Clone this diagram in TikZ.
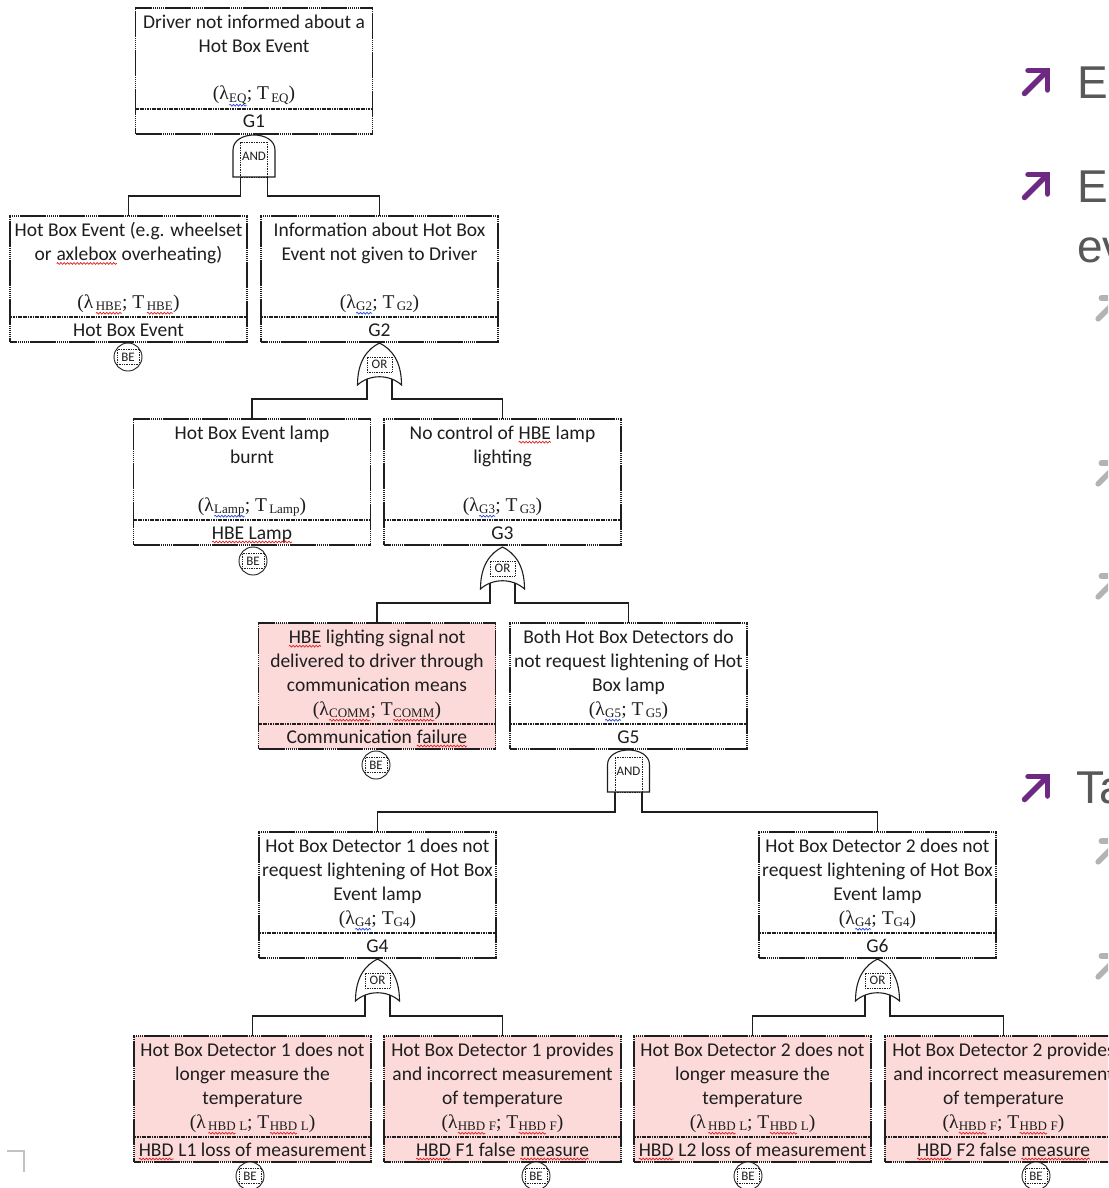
\documentclass[tikz,border=0pt]{standalone}
\usepackage{fontspec}
\setmainfont{Carlito}
\newfontfamily\seriffont{Liberation Serif}
\newfontfamily\slidefont{Liberation Sans}
\usetikzlibrary{calc,decorations.pathmorphing}

\definecolor{evpink}{HTML}{FDDADA}
\definecolor{inkgrey}{HTML}{1E1E1E}
\definecolor{bulletpurple}{HTML}{6E2A82}
\definecolor{bulletgrey}{HTML}{B3B3B3}
\definecolor{slidetext}{HTML}{58585A}
\definecolor{spellred}{HTML}{E02020}
\definecolor{grammarblue}{HTML}{2848E0}

\tikzset{
  evbox/.style={draw=inkgrey, line width=1.7pt, dash pattern=on 1.6pt off 0.35pt,
    minimum width=237pt, minimum height=126pt, inner sep=0pt, outer sep=0pt},
  divider/.style={draw=inkgrey, line width=2.3pt, dash pattern=on 1.2pt off 0.5pt},
  desc/.style={inner sep=0pt, align=center, text=inkgrey, font=\fontsize{19.5}{24}\selectfont},
  formula/.style={inner sep=0pt, text=inkgrey, font=\seriffont\fontsize{19.5}{24}\selectfont},
  conn/.style={draw=inkgrey, line width=1.3pt},
  gate/.style={draw=inkgrey, line width=1.1pt, fill=white},
  gatelab/.style={draw=inkgrey, line width=0.7pt, densely dotted, inner sep=0pt,
    text=inkgrey, font=\fontsize{13}{13}\selectfont},
  becirc/.style={circle, draw=inkgrey, line width=0.9pt, fill=white, minimum size=28pt, inner sep=0pt},
  belab/.style={draw=inkgrey, line width=0.7pt, densely dotted, inner sep=0pt,
    minimum width=22pt, minimum height=15pt, text=inkgrey, font=\fontsize{13}{13}\selectfont},
  slidetxt/.style={inner sep=0pt, text=slidetext, font=\slidefont\fontsize{46}{50}\selectfont},
}

% wavy proofing underline below a word
\newcommand\wave[2]{\tikz[baseline=(w.base)]{\node[inner sep=0pt,outer sep=0pt,anchor=base,draw=none,fill=none] (w) at (0,0) {#2};\draw[#1,line width=0.7pt,decorate,decoration={snake,amplitude=0.9pt,segment length=3.3pt}] ([yshift=-3pt]w.base west) -- ([yshift=-3pt]w.base east);}}
\newcommand\rw[1]{\wave{spellred}{#1}}
\newcommand\bw[1]{\wave{grammarblue}{#1}}

% rate / time pair of an event
\newcommand\sub[1]{\raisebox{-2.2pt}{\fontsize{13}{13}\selectfont #1}}
\newcommand\fm[2]{(λ\sub{#1}; T\sub{#2})}

% event box: name, centre x, top y, fill, description, rate pair, identifier
\newcommand\evt[7]{%
  \node[evbox,fill=#4,anchor=north] (#1) at (#2,#3) {};
  \draw[divider] ($(#1.south west)+(0.8,-25)$) -- ($(#1.south east)+(-0.8,-25)$);
  \node[desc,anchor=north] (#1-text) at ($(#1.north)+(0,6)$) {\rule{0pt}{14pt}#5};
  \node[formula,anchor=base] (#1-rate) at ($(#1.north)+(0,92)$) {#6};
  \node[desc,anchor=base] (#1-id) at ($(#1.south)+(0,-6)$) {#7};
}

% AND gate: name, centre x, top y
\newcommand\andgate[3]{%
  \draw[gate] (#2-21,#3+42) -- (#2-21,#3+15) .. controls (#2-21,#3-5) and (#2+21,#3-5) .. (#2+21,#3+15) -- (#2+21,#3+42) -- cycle;
  \node[gatelab,minimum width=27pt,minimum height=35pt,text depth=7pt] (#1) at (#2,#3+24.5) {AND};
  \coordinate (#1-l) at (#2-13.5,#3+42);
  \coordinate (#1-r) at (#2+13.5,#3+42);
}

% OR gate: name, centre x, top y
\newcommand\orgate[3]{%
  \draw[gate] (#2,#3) .. controls (#2-12,#3+6) and (#2-22,#3+18) .. (#2-22,#3+42)
    .. controls (#2-10,#3+31) and (#2+10,#3+31) .. (#2+22,#3+42)
    .. controls (#2+22,#3+18) and (#2+12,#3+6) .. cycle;
  \node[gatelab,minimum width=25pt,minimum height=15pt] (#1) at (#2,#3+21.5) {OR};
  \coordinate (#1-l) at (#2-12.5,#3+35.5);
  \coordinate (#1-r) at (#2+12.5,#3+35.5);
}

% basic event marker: name, centre x, centre y
\newcommand\basicev[3]{%
  \node[becirc] (#1) at (#2,#3) {};
  \node[belab] (#1-t) at (#2,#3) {BE};
}

% bullet arrow of the slide: x0, y0, size, colour
\newcommand\slidearrow[4]{%
  \begin{scope}[shift={(#1,#2)},scale=#3/30]
    \draw[#4,line width=5.5pt,line cap=round,line join=miter] (7,3.5) -- (26.5,3.5) -- (26.5,23);
    \draw[#4,line width=5.5pt,line cap=round] (3.5,26.5) -- (24,6);
  \end{scope}
}

\begin{document}
\begin{tikzpicture}[x=1pt,y=-1pt]
\clip (0,0) rectangle (1108,1188);
\fill[white] (0,0) rectangle (1108,1188);

% ---- events ----
\evt{g1}{254}{8}{white}{Driver not informed about a\\Hot Box Event}{\fm{\bw{EQ}}{\,EQ}}{G1}
\evt{hbe}{128.5}{216}{white}{Hot Box Event (e.g. wheelset\\or \rw{axlebox} overheating)}{\fm{\,\rw{HBE}}{\,\rw{HBE}}}{Hot Box Event}
\evt{g2}{379.5}{216}{white}{Information about Hot Box\\Event not given to Driver}{\fm{\bw{G2}}{\,G2}}{G2}
\evt{lamp}{252}{419}{white}{Hot Box Event lamp\\burnt}{\fm{\bw{Lamp}}{\,Lamp}}{\rw{HBE Lamp}}
\evt{g3}{502.5}{419}{white}{No control of \rw{HBE} lamp\\lighting}{\fm{\bw{G3}}{\,G3}}{G3}
\evt{comm}{377}{623}{evpink}{\rw{HBE} lighting signal not\\delivered to driver through\\communication means}{\fm{\rw{COMM}}{\rw{COMM}}}{Communication \rw{failure}}
\evt{g5}{628.5}{623}{white}{Both Hot Box Detectors do\\not request lightening of Hot\\Box lamp}{\fm{\bw{G5}}{\,G5}}{G5}
\evt{g4}{377.5}{832}{white}{Hot Box Detector 1 does not\\request lightening of Hot Box\\Event lamp}{\fm{\bw{G4}}{G4}}{G4}
\evt{g6}{877.5}{832}{white}{Hot Box Detector 2 does not\\request lightening of Hot Box\\Event lamp}{\fm{\bw{G4}}{G4}}{G6}
\evt{l1}{252.5}{1036}{evpink}{Hot Box Detector 1 does not\\longer measure the\\temperature}{\fm{\,\rw{HBD} L}{\rw{HBD} L}}{\rw{HBD} L1 loss of measurement}
\evt{f1}{502.5}{1036}{evpink}{Hot Box Detector 1 provides\\and incorrect measurement\\of temperature}{\fm{\rw{HBD} F}{\rw{HBD} F}}{\rw{HBD} F1 false \rw{measure}}
\evt{l2}{752.5}{1036}{evpink}{Hot Box Detector 2 does not\\longer measure the\\temperature}{\fm{\,\rw{HBD} L}{\rw{HBD} L}}{\rw{HBD} L2 loss of measurement}
\evt{f2}{1003.5}{1036}{evpink}{Hot Box Detector 2 provides\\and incorrect measurement\\of temperature}{\fm{\rw{HBD} F}{\rw{HBD} F}}{\rw{HBD} F2 false \rw{measure}}

% ---- gates ----
\andgate{a1}{254}{135}
\orgate{o2}{379.5}{343}
\orgate{o3}{502.5}{547}
\andgate{a5}{628.5}{750}
\orgate{o4}{377.5}{959}
\orgate{o6}{877.5}{959}

% ---- connectors ----
\draw[conn] (a1-l) |- ([yshift=20pt]hbe.north) -- (hbe.north);
\draw[conn] (a1-r) |- ([yshift=20pt]g2.north) -- (g2.north);
\draw[conn] (o2-l) |- ([yshift=20pt]lamp.north) -- (lamp.north);
\draw[conn] (o2-r) |- ([yshift=20pt]g3.north) -- (g3.north);
\draw[conn] (o3-l) |- ([yshift=20pt]comm.north) -- (comm.north);
\draw[conn] (o3-r) |- ([yshift=20pt]g5.north) -- (g5.north);
\draw[conn] (a5-l) |- ([yshift=20pt]g4.north) -- (g4.north);
\draw[conn] (a5-r) |- ([yshift=20pt]g6.north) -- (g6.north);
\draw[conn] (o4-l) |- ([yshift=20pt]l1.north) -- (l1.north);
\draw[conn] (o4-r) |- ([yshift=20pt]f1.north) -- (f1.north);
\draw[conn] (o6-l) |- ([yshift=20pt]l2.north) -- (l2.north);
\draw[conn] (o6-r) |- ([yshift=20pt]f2.north) -- (f2.north);

% ---- basic event markers ----
\basicev{be1}{128}{357}
\basicev{be2}{253}{561}
\basicev{be3}{376}{765}
\basicev{be4}{250}{1176}
\basicev{be5}{536}{1176}
\basicev{be6}{748}{1176}
\basicev{be7}{1036}{1176}

% ---- slide bullets on the right ----
\slidearrow{1021}{67}{30}{bulletpurple}
\slidearrow{1021}{171}{30}{bulletpurple}
\slidearrow{1021}{773}{30}{bulletpurple}
\slidearrow{1095}{295}{27}{bulletgrey}
\slidearrow{1095}{460}{27}{bulletgrey}
\slidearrow{1095}{573}{27}{bulletgrey}
\slidearrow{1095}{838}{27}{bulletgrey}
\slidearrow{1095}{953}{27}{bulletgrey}
\node[slidetxt,anchor=base west] (s1) at (1077,99) {E};
\node[slidetxt,anchor=base west] (s2) at (1077,202) {E};
\node[slidetxt,anchor=base west] (s3) at (1077,262) {ev};
\node[slidetxt,anchor=base west] (s4) at (1076,803) {Ta};

% crop corner mark
\draw[bulletgrey!80, line width=1.3pt] (7,1151) -- (24,1151) -- (24,1172);
\end{tikzpicture}
\end{document}
